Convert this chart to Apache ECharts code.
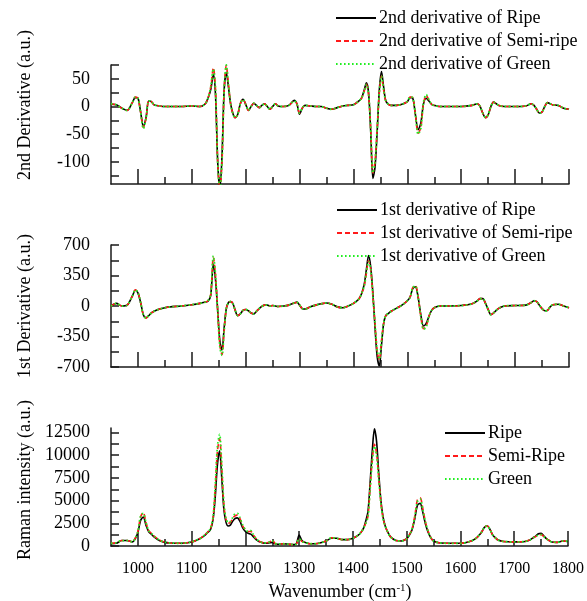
<!DOCTYPE html>
<html>
<head>
<meta charset="utf-8">
<script src="https://cdn.jsdelivr.net/npm/echarts@6/dist/echarts.min.js"></script>
<style>html,body{margin:0;padding:0;background:#fff}#c{width:587px;height:601px}</style>
</head>
<body>
<div id="c"></div>
<script>
const wn = [950,960,970,980,990,995,1000,1005,1010,1015,
1020,1025,1030,1040,1050,1060,1080,1100,1115,1125,
1130,1135,1140,1144,1148,1152,1156,1160,1164,1168,
1172,1176,1180,1185,1190,1195,1200,1205,1210,1215,
1220,1225,1230,1235,1240,1245,1250,1255,1260,1270,
1280,1290,1295,1300,1305,1310,1320,1330,1340,1350,
1360,1370,1380,1390,1400,1410,1415,1420,1424,1428,
1432,1436,1440,1444,1448,1452,1456,1460,1465,1470,
1480,1490,1500,1505,1510,1515,1520,1525,1530,1535,
1540,1545,1550,1560,1580,1600,1620,1630,1635,1640,
1645,1650,1655,1660,1665,1670,1680,1700,1720,1730,
1735,1740,1745,1750,1755,1760,1765,1770,1780,1790,1800];

const ramanRipe = [250,300,600,600,450,800,1500,2800,3200,2300,
1600,1300,1000,600,400,330,300,450,800,1200,
1500,1800,3000,5500,9000,10500,7500,4000,2600,2200,
2300,2700,3000,3100,2700,2000,1600,1400,1300,1000,
700,500,400,320,300,350,400,250,200,250,
200,150,300,1200,600,400,250,250,350,550,
850,850,700,700,850,1200,1500,2000,2800,3800,
7000,10500,12900,11500,8000,5000,3200,2200,1500,1000,
600,550,800,1200,1800,3000,4500,4700,3700,2400,
1500,900,550,350,300,300,550,900,1200,1600,
2100,2200,1800,1200,900,650,500,450,500,700,
900,1100,1350,1400,1100,800,600,450,400,550,500];
const ramanSemi = [300,350,600,600,450,850,1600,3200,3700,2600,
1700,1400,1100,650,420,330,300,450,800,1250,
1550,1900,3200,6500,10500,11800,8500,4500,2900,2500,
2600,3000,3300,3400,3000,2200,1800,1600,1600,1200,
800,550,400,320,350,450,650,300,200,250,
200,150,250,800,500,400,250,250,350,550,
900,850,700,700,850,1200,1500,2000,2600,3300,
6500,9500,11200,10200,7500,4800,3100,2200,1500,1000,
600,550,800,1250,1900,3300,5100,5300,4100,2600,
1600,900,550,350,300,300,550,900,1200,1600,
2100,2200,1800,1200,900,650,500,450,500,700,
900,1050,1200,1250,1050,800,600,450,400,550,500];
const ramanGreen = [300,350,600,600,450,850,1600,3300,3600,2600,
1700,1400,1100,650,420,330,300,450,800,1250,
1550,1900,3300,6800,11000,12300,9000,4700,3000,2600,
2700,3100,3500,3600,3100,2300,1800,1600,1700,1200,
800,550,400,320,350,450,550,300,200,250,
200,150,250,800,500,400,250,250,350,550,
900,850,700,700,850,1200,1500,2000,2500,3200,
6300,9300,11000,10000,7300,4700,3000,2200,1500,1000,
600,550,800,1250,1900,3200,4900,5200,4000,2600,
1600,900,550,350,300,300,550,900,1200,1600,
2100,2200,1800,1200,900,650,500,450,500,700,
900,1050,1200,1250,1050,800,600,450,400,550,500];

const d1Ripe = [0,30,0,10,120,180,150,40,-100,-135,
-110,-80,-60,-35,-20,-10,0,15,30,45,
55,120,480,300,-50,-400,-505,-250,-30,40,
50,30,-40,-110,-90,-50,-40,-55,-80,-90,
-60,-30,-5,10,10,0,5,0,-5,0,
10,35,45,10,-30,-35,-10,10,25,35,
20,-10,-20,0,30,80,140,250,420,580,
450,150,-250,-580,-688,-450,-200,-110,-85,-60,
-25,10,60,100,200,220,100,-100,-230,-200,
-120,-50,-20,0,0,5,25,60,85,85,
30,-40,-100,-80,-50,-25,0,5,10,40,
60,50,10,-30,-55,-50,-10,15,20,0,-20];
const d1Semi = [0,30,0,10,120,185,155,40,-100,-140,
-110,-80,-60,-35,-20,-10,0,15,30,45,
60,130,560,350,-50,-450,-560,-280,-30,40,
50,30,-40,-110,-90,-50,-40,-55,-80,-90,
-60,-30,-5,10,10,0,5,0,-5,0,
10,35,40,10,-30,-35,-10,10,25,35,
20,-10,-20,0,30,80,140,230,380,520,
420,120,-200,-520,-620,-400,-200,-110,-85,-60,
-25,10,60,100,210,235,110,-120,-260,-230,
-120,-50,-20,0,0,5,25,60,85,85,
30,-40,-100,-80,-50,-25,0,5,10,40,
60,50,10,-30,-55,-50,-10,15,20,0,-20];
const d1Green = [0,30,0,10,120,185,155,40,-100,-140,
-110,-80,-60,-35,-20,-10,0,15,30,45,
60,130,575,360,-60,-470,-565,-290,-30,40,
50,30,-40,-110,-90,-50,-40,-55,-80,-90,
-60,-30,-5,10,10,0,5,0,-5,0,
10,35,40,10,-30,-35,-10,10,25,35,
20,-10,-20,0,30,80,140,230,380,510,
420,120,-200,-510,-610,-400,-200,-110,-85,-60,
-25,10,60,100,210,230,100,-120,-270,-240,
-120,-50,-20,0,0,5,25,60,85,85,
30,-40,-100,-80,-50,-25,0,5,10,40,
60,50,10,-30,-55,-50,-10,15,20,0,-20];

const d2Ripe = [4,3,-3,-7,8,16,15,-10,-36,-20,
10,9,3,1,0,0,0,1,0,5,
15,30,58,20,-100,-150,-90,30,62,35,
5,-12,-20,-15,5,13,4,-7,0,6,
2,-2,2,5,0,-5,0,5,1,0,
2,11,5,-14,-3,2,1,0,0,-3,
-5,-2,1,2,3,10,15,30,43,25,
-45,-130,-110,-45,30,63,35,10,4,2,
2,4,9,16,15,-15,-42,-30,5,15,
10,4,2,0,0,0,2,5,0,-12,
-20,-15,0,8,5,2,0,0,1,5,
2,-5,-12,-10,0,7,5,3,2,-3,-5];
const d2Semi = [5,3,-3,-7,8,17,15,-10,-38,-22,
10,9,3,1,0,0,0,1,0,5,
15,35,70,30,-100,-150,-100,30,74,40,
5,-12,-20,-15,5,13,4,-7,0,6,
2,-2,2,5,0,-5,0,5,1,0,
2,10,5,-12,-3,2,1,0,0,-3,
-5,-2,1,2,3,10,15,28,40,22,
-40,-120,-100,-40,25,55,30,10,4,2,
2,4,9,17,16,-15,-48,-38,5,20,
12,4,2,0,0,0,2,5,0,-12,
-20,-15,0,8,5,2,0,0,1,5,
2,-5,-12,-10,0,7,5,3,2,-3,-5];
const d2Green = [5,3,-3,-7,8,17,15,-10,-40,-22,
10,9,3,1,0,0,0,1,0,5,
15,35,68,30,-100,-150,-100,30,75,40,
5,-12,-20,-15,5,13,4,-7,0,6,
2,-2,2,5,0,-5,0,5,1,0,
2,10,5,-12,-3,2,1,0,0,-3,
-5,-2,1,2,3,10,15,28,40,22,
-40,-120,-100,-40,25,55,30,10,4,2,
2,4,9,17,16,-15,-50,-40,8,22,
12,4,2,0,0,0,2,5,0,-12,
-20,-15,0,8,5,2,0,0,1,5,
2,-5,-12,-10,0,7,5,3,2,-3,-5];

const xMajorTicks = [1000,1100,1200,1300,1400,1500,1600,1700,1800];
const xMinorTicks = [1050,1150,1250,1350,1450,1550,1650,1750];
const d2TickValues = [-125,-100,-75,-50,-25,0,25,50,75];
const d2LabelValues = [-100,-50,0,50];
const d1TickValues = [-700,-525,-350,-175,0,175,350,525,700];
const d1LabelValues = [-700,-350,0,350,700];
const rTickValues = [0,1250,2500,3750,5000,6250,7500,8750,10000,11250,12500];
const rLabelValues = [0,2500,5000,7500,10000,12500];

const names2 = ['2nd derivative of Ripe','2nd derivative of Semi-ripe','2nd derivative of Green'];
const names1 = ['1st derivative of Ripe','1st derivative of Semi-ripe','1st derivative of Green'];
const namesR = ['Ripe','Semi-Ripe','Green'];

const SERIF = "'Liberation Serif','Times New Roman',serif";
const AX = '#1a1a1a';
const plain = v => String(v);

const grids = [
  {left:111, right:18, top:65, height:119},
  {left:111, right:18, top:245, height:122},
  {left:111, right:18, top:428, height:118}
];

function pairs(arr){ return wn.map((x,i)=>[x, arr[i]]); }

const xAxes = [];
for (let g=0; g<3; g++){
  xAxes.push({
    type:'value', gridIndex:g, min:950, max:1800, position:'bottom',
    axisLine:{show:true, onZero:false, lineStyle:{color:AX, width:1.5}},
    axisTick:{show:true, inside:true, length:15, customValues:xMajorTicks, lineStyle:{color:AX, width:1.5}},
    axisLabel:{show:g===2, customValues:xMajorTicks, formatter:plain, margin:15, color:'#000', fontFamily:SERIF, fontSize:16},
    splitLine:{show:false}
  });
}
for (let g=0; g<3; g++){
  xAxes.push({
    type:'value', gridIndex:g, min:950, max:1800, position:'bottom',
    axisLine:{show:false, onZero:false},
    axisTick:{show:true, inside:true, length:7, customValues:xMinorTicks, lineStyle:{color:AX, width:1.5}},
    axisLabel:{show:false},
    splitLine:{show:false}
  });
}

function yAxis(g, min, max, ticks, labels){
  return {
    type:'value', gridIndex:g, min:min, max:max,
    axisLine:{show:true, onZero:false, lineStyle:{color:AX, width:1.5}},
    axisTick:{show:true, inside:true, length:8, customValues:ticks, lineStyle:{color:AX, width:1.5}},
    axisLabel:{show:true, customValues:labels, formatter:plain, margin:21, color:'#000', fontFamily:SERIF, fontSize:18},
    splitLine:{show:false}
  };
}
const yAxes = [
  yAxis(0, -140, 75, d2TickValues, d2LabelValues),
  yAxis(1, -700, 700, d1TickValues, d1LabelValues),
  yAxis(2, 0, 13000, rTickValues, rLabelValues)
];

const styles = [
  {color:'#000000', type:'solid', width:1.6},
  {color:'#ff1a1a', type:[5,3], width:1.6},
  {color:'#22ee22', type:[1.6,2.4], width:1.8}
];

const panels = [
  {names:names2, data:[d2Ripe,d2Semi,d2Green], g:0},
  {names:names1, data:[d1Ripe,d1Semi,d1Green], g:1},
  {names:namesR, data:[ramanRipe,ramanSemi,ramanGreen], g:2}
];
const series = [];
panels.forEach(p=>{
  p.data.forEach((arr,k)=>{
    series.push({
      type:'line', name:p.names[k], xAxisIndex:p.g, yAxisIndex:p.g,
      data:pairs(arr), smooth:0.3, symbol:'none', clip:true,
      lineStyle:{color:styles[k].color, type:styles[k].type, width:styles[k].width},
      itemStyle:{color:styles[k].color},
      z: 2+k
    });
  });
});

function legend(names, left, top){
  return {
    data:names, orient:'vertical', left:left, top:top, padding:0,
    itemWidth:40, itemHeight:14, itemGap:5,
    itemStyle:{opacity:0, borderWidth:0},
    textStyle:{fontFamily:SERIF, fontSize:18, color:'#000', lineHeight:18, padding:[0,0,0,-2]},
    selectedMode:false
  };
}

const chart = echarts.init(document.getElementById('c'), null, {renderer:'canvas'});
chart.setOption({
  backgroundColor:'#ffffff',
  animation:false,
  grid:grids,
  xAxis:xAxes,
  yAxis:yAxes,
  legend:[legend(names2, 335, 9), legend(names1, 336, 201), legend(namesR, 444, 424)],
  series:series,
  graphic:[
    {type:'text', x:25, y:105, rotation:Math.PI/2, style:{text:'2nd Derivative (a.u.)', fontFamily:SERIF, fontSize:18, fill:'#000', align:'center', verticalAlign:'middle'}},
    {type:'text', x:25, y:306, rotation:Math.PI/2, style:{text:'1st Derivative (a.u.)', fontFamily:SERIF, fontSize:18, fill:'#000', align:'center', verticalAlign:'middle'}},
    {type:'text', x:25, y:480, rotation:Math.PI/2, style:{text:'Raman intensity (a.u.)', fontFamily:SERIF, fontSize:18, fill:'#000', align:'center', verticalAlign:'middle'}},
    {type:'text', x:340, y:592, style:{text:'{a|Wavenumber (cm}{b|-1}{a|)}', align:'center', verticalAlign:'middle',
      rich:{a:{fontFamily:SERIF, fontSize:18, fill:'#000', color:'#000'}, b:{fontFamily:SERIF, fontSize:11, color:'#000', fill:'#000', verticalAlign:'top', padding:[0,0,8,0]}}}}
  ]
});
</script>
</body>
</html>
